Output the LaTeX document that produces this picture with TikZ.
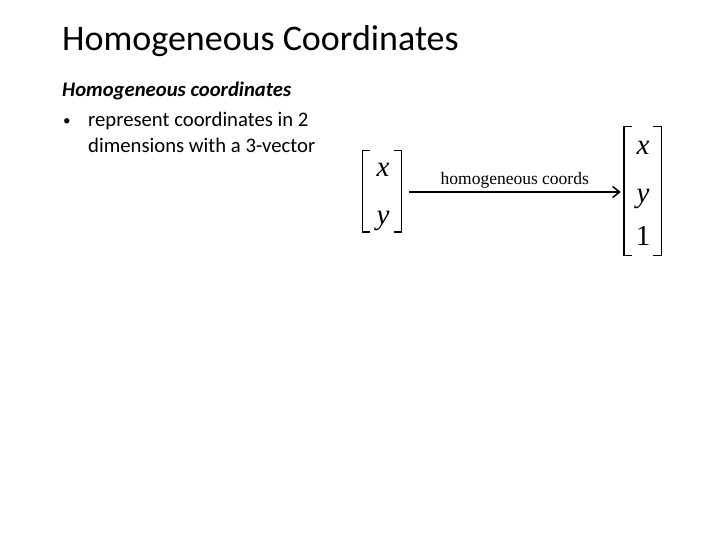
\documentclass[tikz,border=0pt]{standalone}
\usepackage{fontspec}
\setmainfont{Carlito}
\newfontfamily\timesf{Liberation Serif}
\usetikzlibrary{arrows.meta}
\tikzset{
  slidetext/.style={anchor=base west, inner sep=0pt, text=black},
  bodyfont/.style={font=\fontsize{20.7}{24}\selectfont},
  entry/.style={inner sep=0pt, font=\timesf\itshape\fontsize{29}{29}\selectfont},
  bracketbox/.style={inner sep=0pt, minimum width=39pt},
  brk/.style={line width=1.4pt, black},
  conn/.style={line width=1.5pt, -{Straight Barb[length=7pt,width=11pt,line width=1.5pt]}}
}
\begin{document}
\begin{tikzpicture}[x=1pt,y=-1pt]
\useasboundingbox[fill=white] (0,0) rectangle (720,540);
% title and text
\node[slidetext, font=\fontsize{36}{43}\selectfont] (title) at (62,51) {Homogeneous Coordinates};
\node[slidetext, bodyfont, font=\bfseries\itshape\fontsize{20.7}{24}\selectfont] (sub) at (62,97) {Homogeneous coordinates};
\node[slidetext, font=\fontsize{15}{18}\selectfont] (bul) at (63,126) {\textbullet};
\node[slidetext, bodyfont] (l1) at (88,127) {represent coordinates in 2};
\node[slidetext, bodyfont] (l2) at (88,153) {dimensions with a 3-vector};
% left matrix
\node[bracketbox, minimum height=81pt] (L) at (382,191.5) {};
\draw[brk] ([xshift=8pt]L.north west) -- (L.north west) -- (L.south west) -- ([xshift=8pt]L.south west);
\draw[brk] ([xshift=-8pt]L.north east) -- (L.north east) -- (L.south east) -- ([xshift=-8pt]L.south east);
\node[entry] (lx) at (383,170) {x};
\node[entry] (ly) at (383,221) {y};
% right matrix
\node[bracketbox, minimum height=128pt, minimum width=37pt] (R) at (642.5,191) {};
\draw[brk] ([xshift=8pt]R.north west) -- (R.north west) -- (R.south west) -- ([xshift=8pt]R.south west);
\draw[brk] ([xshift=-8pt]R.north east) -- (R.north east) -- (R.south east) -- ([xshift=-8pt]R.south east);
\node[entry] (rx) at (643,148) {x};
\node[entry] (ry) at (643,199) {y};
\node[entry, font=\timesf\fontsize{29}{29}\selectfont] (r1) at (643,236) {1};
% arrow
\draw[conn] ([xshift=7pt,yshift=-0.5pt]L.east) -- node[above=3pt, inner sep=0pt, font=\timesf\fontsize{17.5}{17.5}\selectfont] (lab) {homogeneous coords} ([xshift=-3pt,yshift=-1pt]R.west);
\end{tikzpicture}
\end{document}
